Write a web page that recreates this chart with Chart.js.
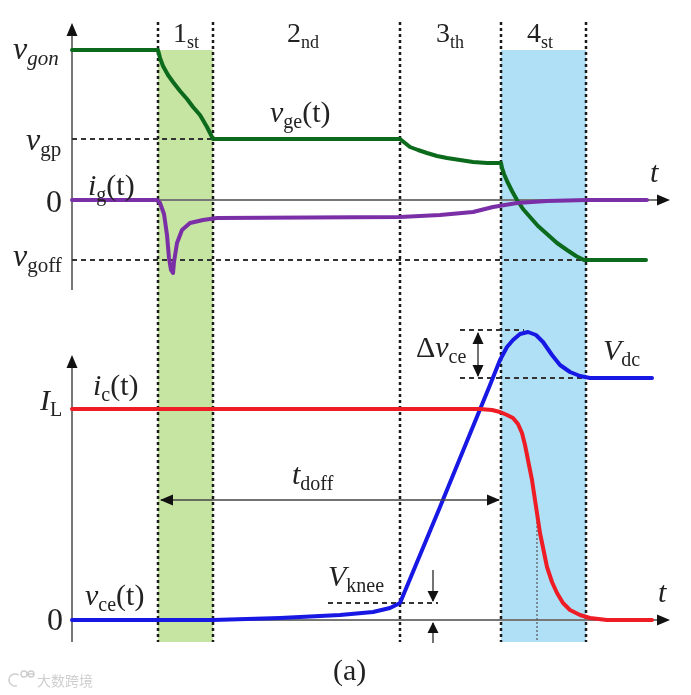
<!DOCTYPE html>
<html>
<head>
<meta charset="utf-8">
<script src="https://cdn.jsdelivr.net/npm/chart.js@4.4.0/dist/chart.umd.min.js"></script>
<style>
  html, body { margin: 0; padding: 0; background: #fff; }
  #wrap { width: 691px; height: 695px; }
</style>
</head>
<body>
<div id="wrap"><canvas id="grafico" width="691" height="695"></canvas></div>
<script>
/* =========================
   Turn-off waveforms (a)
========================= */

// levels (arbitrary units)
const V_GON = 15, V_GP = 6.1, V_GOFF = -6;
const I_L = 21.1, V_DC = 24.2, V_PEAK = 29.0, V_KNEE = 1.7;

// stage boundaries on the time axis + stage labels
const STAGE_T = [8.6, 14.1, 32.8, 42.9, 51.4];
const STAGE_LABELS = [['1', 'st'], ['2', 'nd'], ['3', 'th'], ['4', 'st']];

// v_ge(t)
const T_GE = [0, 8.6, 8.8, 9.1, 9.6, 10.1, 10.8, 11.5, 12.1, 12.8, 13.5, 14.1,
  32.8, 33.3, 33.8, 34.6, 35.5, 36.5, 37.5, 38.8, 40.1, 41.5, 42.8,
  42.9, 43.0, 43.2, 43.5, 44.0, 44.5, 45.1, 45.8, 46.6, 47.5, 48.5, 49.5, 50.4, 51.2, 57.4];
const V_GE = [15, 15, 14.2, 13.4, 12.5, 11.8, 10.9, 10.1, 9.3, 8.5, 7.3, 6.1,
  6.1, 5.7, 5.3, 5.0, 4.7, 4.4, 4.2, 4.0, 3.8, 3.7, 3.7,
  3.7, 3.2, 2.6, 1.9, 0.9, 0, -0.9, -1.7, -2.6, -3.4, -4.3, -5.0, -5.6, -6.0, -6.0];

// i_g(t)
const T_IG = [0, 8.5, 8.8, 9.2, 9.5, 9.7, 9.9, 10.1, 10.2, 10.5, 11.0, 11.8, 13.1, 14.5,
  32.8, 36.8, 40.1, 42.1, 44.5, 47.5, 51.5, 57.5];
const I_G = [0, 0, -0.3, -1.4, -3.5, -5.8, -7.0, -7.3, -6.2, -4.3, -3.0, -2.3, -2.0, -1.8,
  -1.7, -1.5, -1.2, -0.7, -0.3, -0.1, 0, 0];

// i_c(t)
const T_IC = [0, 40.8, 42.0, 42.8, 43.5, 44.1, 44.6, 45.0, 45.3, 45.6, 46.0, 46.3, 46.8,
  47.5, 48.0, 48.5, 49.1, 49.8, 50.8, 51.8, 53.5, 58.0];
const I_C = [21.1, 21.1, 21.0, 20.8, 20.5, 20.2, 19.6, 18.7, 17.5, 16.0, 14.0, 12.0, 8.7,
  5.3, 3.8, 2.7, 1.7, 1.0, 0.5, 0.2, 0, 0];

// v_ce(t)
const T_VCE = [0, 14.1, 20.8, 26.8, 30.1, 31.8, 32.8, 36.8, 41.8, 42.8, 43.5, 44.1, 44.8,
  45.6, 46.4, 47.1, 48.0, 48.8, 49.8, 50.8, 51.8, 58.0];
const V_CE = [0, 0, 0.2, 0.5, 0.8, 1.2, 1.7, 11.3, 23.5, 26.0, 27.3, 28.0, 28.6,
  28.8, 28.5, 27.8, 26.5, 25.5, 24.8, 24.4, 24.2, 24.2];

const pares = (ts, vs) => ts.map((t, i) => ({ x: t, y: vs[i] }));

const SERIF = '"Liberation Serif", "Times New Roman", serif';

function ponta(ctx, x, y, ang, len = 12, larg = 5) {
  ctx.save();
  ctx.translate(x, y);
  ctx.rotate(ang);
  ctx.beginPath();
  ctx.moveTo(0, 0);
  ctx.lineTo(-len, -larg);
  ctx.lineTo(-len, larg);
  ctx.closePath();
  ctx.fill();
  ctx.restore();
}

function linha(ctx, x1, y1, x2, y2) {
  ctx.beginPath();
  ctx.moveTo(x1, y1);
  ctx.lineTo(x2, y2);
  ctx.stroke();
}

// text with subscripts: parts = [{t, it, sub}]
function rotulo(ctx, x, y, partes, size = 30) {
  let cx = x;
  partes.forEach(p => {
    const s = p.sub ? Math.round(size * 0.66) : size;
    ctx.font = `${p.it ? 'italic ' : ''}${s}px ${SERIF}`;
    ctx.fillText(p.t, cx, y + (p.sub ? size * 0.2 : 0));
    cx += ctx.measureText(p.t).width + (p.gap || 0);
  });
}

const guias = {
  id: 'guias',
  beforeDatasetsDraw(chart) {
    const { ctx, scales: { x, yTop, yBot } } = chart;
    const X = v => x.getPixelForValue(v);
    const YT = v => yTop.getPixelForValue(v);
    const YB = v => yBot.getPixelForValue(v);
    ctx.save();

    // shaded stages
    const topo = YT(V_GON), base = YB(-2.2);
    ctx.fillStyle = '#c6e4a2';
    ctx.fillRect(X(STAGE_T[0]), topo, X(STAGE_T[1]) - X(STAGE_T[0]), base - topo);
    ctx.fillStyle = '#b0e0f6';
    ctx.fillRect(X(STAGE_T[3]), topo, X(STAGE_T[4]) - X(STAGE_T[3]), base - topo);

    // axes
    ctx.strokeStyle = '#777';
    ctx.fillStyle = '#111';
    ctx.lineWidth = 2;
    linha(ctx, X(0), YT(-9), X(0), YT(16.8));
    ponta(ctx, X(0), YT(17.7), -Math.PI / 2, 13, 5.5);
    linha(ctx, X(0), YT(0), X(58.8), YT(0));
    ponta(ctx, X(59.8), YT(0), 0, 13, 5.5);
    linha(ctx, X(0), YB(-2.2), X(0), YB(25.6));
    ponta(ctx, X(0), YB(26.5), -Math.PI / 2, 13, 5.5);
    linha(ctx, X(0), YB(0), X(58.8), YB(0));
    ponta(ctx, X(59.8), YB(0), 0, 13, 5.5);

    // dotted stage boundaries
    ctx.strokeStyle = '#1a1a1a';
    ctx.lineWidth = 2.5;
    ctx.setLineDash([3, 3]);
    STAGE_T.forEach(t => linha(ctx, X(t), YT(17.8), X(t), YB(-2.2)));

    // dashed reference levels
    ctx.strokeStyle = '#333';
    ctx.lineWidth = 2;
    ctx.setLineDash([5, 4]);
    linha(ctx, X(0), YT(V_GP), X(STAGE_T[1]), YT(V_GP));
    linha(ctx, X(0), YT(V_GOFF), X(STAGE_T[4]), YT(V_GOFF));
    linha(ctx, X(38.8), YB(V_PEAK), X(45.2), YB(V_PEAK));
    linha(ctx, X(38.8), YB(V_DC), X(STAGE_T[4]), YB(V_DC));
    linha(ctx, X(25.6), YB(V_KNEE), X(36.6), YB(V_KNEE));

    // thin dotted mark under i_c fall
    ctx.strokeStyle = '#555';
    ctx.lineWidth = 1.2;
    ctx.setLineDash([2, 2]);
    linha(ctx, X(46.5), YB(11), X(46.5), YB(-2.2));
    ctx.restore();
  },
  afterDatasetsDraw(chart) {
    const { ctx, scales: { x, yTop, yBot } } = chart;
    const X = v => x.getPixelForValue(v);
    const YT = v => yTop.getPixelForValue(v);
    const YB = v => yBot.getPixelForValue(v);
    ctx.save();

    // arrows
    ctx.strokeStyle = '#444';
    ctx.fillStyle = '#111';
    ctx.lineWidth = 1.5;
    const yd = YB(12);
    linha(ctx, X(STAGE_T[0] + 0.3), yd, X(STAGE_T[3] - 0.2), yd);
    ponta(ctx, X(STAGE_T[0] + 0.2), yd, Math.PI, 13, 5.5);
    ponta(ctx, X(STAGE_T[3] - 0.1), yd, 0, 13, 5.5);

    const xa = X(40.6);
    linha(ctx, xa, YB(V_PEAK - 0.3), xa, YB(V_DC + 0.2));
    ponta(ctx, xa, YB(V_PEAK - 0.2), -Math.PI / 2, 12, 5.5);
    ponta(ctx, xa, YB(V_DC + 0.1), Math.PI / 2, 12, 5.5);

    const xk = X(36.1);
    linha(ctx, xk, YB(V_KNEE + 3.3), xk, YB(V_KNEE + 0.2));
    ponta(ctx, xk, YB(V_KNEE + 0.1), Math.PI / 2, 11, 5.5);
    linha(ctx, xk, YB(-2.3), xk, YB(-0.3));
    ponta(ctx, xk, YB(-0.2), -Math.PI / 2, 11, 5.5);

    // labels
    ctx.fillStyle = '#222';
    ctx.textBaseline = 'alphabetic';
    ctx.textAlign = 'left';
    rotulo(ctx, X(-5.9), YT(14.1), [{ t: 'v', it: true }, { t: 'gon', it: true, sub: true }], 32);
    rotulo(ctx, X(-4.6), YT(5.0), [{ t: 'v', it: true }, { t: 'gp', sub: true }], 32);
    rotulo(ctx, X(-2.6), YT(-1.2), [{ t: '0' }], 32);
    rotulo(ctx, X(-5.9), YT(-6.6), [{ t: 'v', it: true }, { t: 'goff', sub: true }], 32);
    rotulo(ctx, X(1.6), YT(0.5), [{ t: 'i', it: true }, { t: 'g', sub: true }, { t: '(t)' }], 30);
    rotulo(ctx, X(19.8), YT(7.8), [{ t: 'v', it: true }, { t: 'ge', sub: true }, { t: '(t)' }], 30);
    const xsStage = [10.1, 21.5, 36.4, 45.5];
    STAGE_LABELS.forEach((l, i) =>
      rotulo(ctx, X(xsStage[i]), YT(15.8), [{ t: l[0] }, { t: l[1], sub: true }], 28));
    rotulo(ctx, X(57.8), YT(1.8), [{ t: 't', it: true }], 30);

    rotulo(ctx, X(-3.2), YB(21.0), [{ t: 'I', it: true }, { t: 'L', sub: true }], 30);
    rotulo(ctx, X(2.1), YB(22.5), [{ t: 'i', it: true }, { t: 'c', sub: true }, { t: '(t)' }], 30);
    rotulo(ctx, X(22.0), YB(13.6), [{ t: 't', it: true }, { t: 'doff', sub: true }], 30);
    rotulo(ctx, X(1.3), YB(1.5), [{ t: 'v', it: true }, { t: 'ce', sub: true }, { t: '(t)' }], 30);
    rotulo(ctx, X(-2.5), YB(-1.0), [{ t: '0' }], 32);
    rotulo(ctx, X(25.6), YB(3.4), [{ t: 'V', it: true }, { t: 'knee', sub: true }], 30);
    rotulo(ctx, X(34.4), YB(26.3), [{ t: 'Δ' }, { t: 'v', it: true }, { t: 'ce', sub: true }], 30);
    rotulo(ctx, X(53.1), YB(26.0), [{ t: 'V', it: true }, { t: 'dc', sub: true }], 30);
    rotulo(ctx, X(58.6), YB(1.8), [{ t: 't', it: true }], 30);
    rotulo(ctx, X(26.1), YB(-6.0), [{ t: '(a)' }], 30);

    // watermark (small logo + text)
    ctx.strokeStyle = '#cfcfcf';
    ctx.fillStyle = '#cfcfcf';
    ctx.lineWidth = 1.5;
    ctx.beginPath();
    ctx.arc(15, 680, 6, Math.PI * 0.4, Math.PI * 1.7);
    ctx.stroke();
    ctx.beginPath();
    ctx.arc(24, 674, 3, 0, Math.PI * 2);
    ctx.arc(31, 674, 3, 0, Math.PI * 2);
    ctx.stroke();
    ctx.font = '14px "Noto Sans CJK SC"';
    ctx.fillText('大数跨境', 37, 686);
    ctx.restore();
  }
};

const serie = (dados, cor, eixo) => ({
  data: dados,
  yAxisID: eixo,
  showLine: true,
  borderColor: cor,
  backgroundColor: cor,
  borderWidth: 4,
  pointRadius: 0,
  tension: 0,
  borderCapStyle: 'round',
  borderJoinStyle: 'round',
  fill: false
});

new Chart(document.getElementById('grafico'), {
  type: 'scatter',
  data: {
    datasets: [
      serie(pares(T_IG, I_G), '#7a2fa6', 'yTop'),
      serie(pares(T_GE, V_GE), '#0b6a1c', 'yTop'),
      serie(pares(T_IC, I_C), '#ee1c24', 'yBot'),
      serie(pares(T_VCE, V_CE), '#1818e4', 'yBot')
    ]
  },
  options: {
    responsive: false,
    animation: false,
    devicePixelRatio: 1,
    layout: { padding: 0 },
    plugins: { legend: { display: false }, tooltip: { enabled: false } },
    scales: {
      x: { type: 'linear', min: -7.2, max: 61.9, display: false },
      yTop: { type: 'linear', min: -49.5, max: 20, display: false },
      yBot: { type: 'linear', min: -7.5, max: 62, display: false }
    }
  },
  plugins: [guias]
});
</script>
</body>
</html>
